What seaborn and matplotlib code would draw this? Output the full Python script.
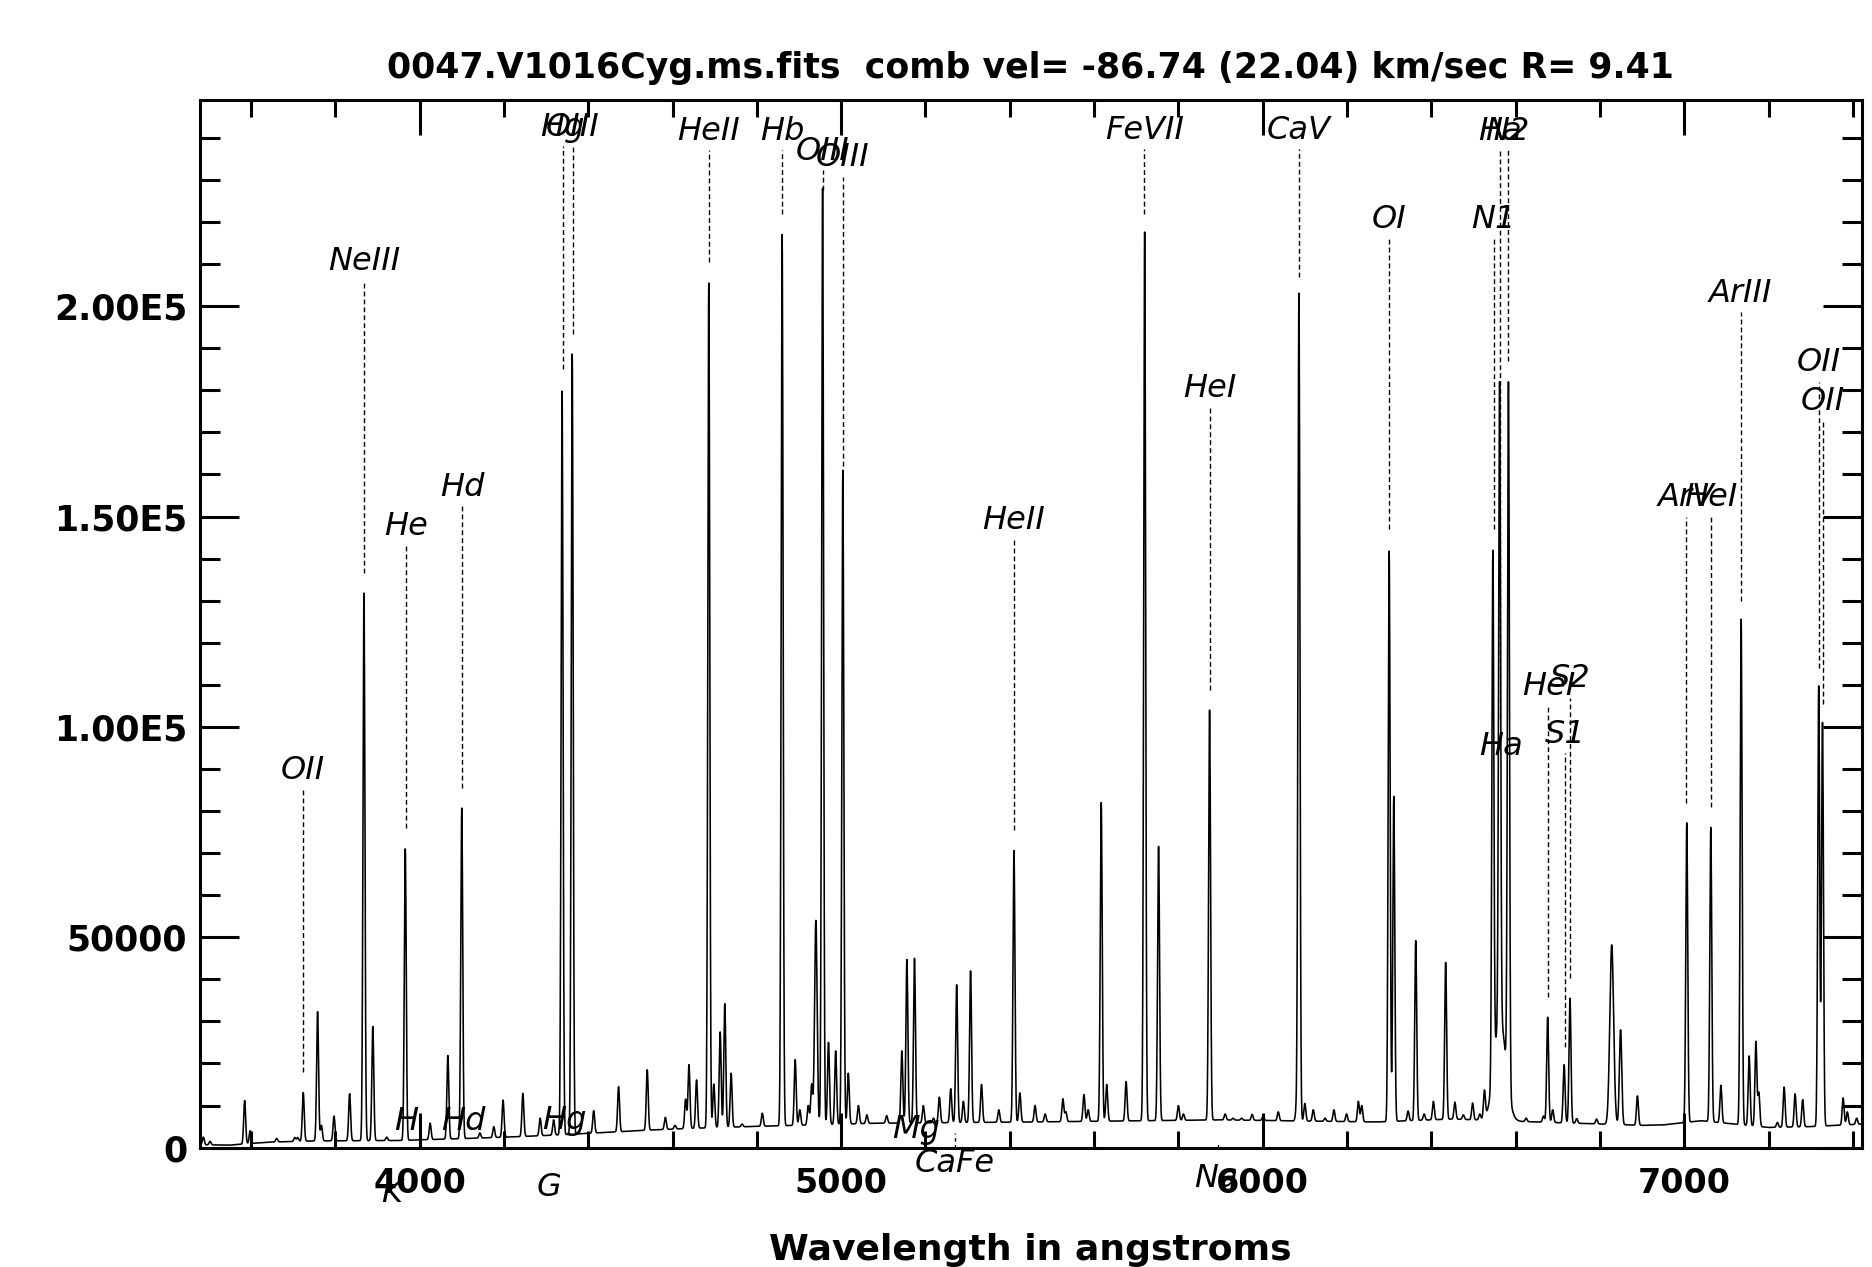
import numpy as np
import matplotlib
matplotlib.use("Agg")
import matplotlib.pyplot as plt
import seaborn as sns

title = "0047.V1016Cyg.ms.fits  comb vel= -86.74 (22.04) km/sec R= 9.41"
x_label = "Wavelength in angstroms"

# continuum level (angstrom, counts)
cont_wave = [3478, 3550, 3640, 3750, 3950, 4050, 4150, 4280, 4400, 4550, 4650, 4780,
             5080, 5450, 5900, 6270, 6450, 6620, 6900, 6950, 7040, 7100, 7200, 7300, 7421]
cont_flux = [700, 600, 1300, 1600, 1700, 2000, 2300, 2800, 3400, 4200, 4600, 5000,
             5800, 6100, 6600, 6100, 6800, 6200, 5300, 5400, 6400, 5800, 4800, 5000, 5600]

# emission peaks (angstrom, peak counts)
line_wave = [3487, 3503, 3585, 3598, 3661, 3704, 3711, 3724, 3758, 3767, 3797, 3834,
             3868, 3889, 3922, 3966, 4025, 4067, 4100, 4143, 4176, 4198, 4245, 4286,
             4318, 4338, 4362, 4413, 4472, 4540, 4583, 4606, 4631, 4639, 4657, 4686,
             4698, 4713, 4724, 4739, 4765, 4813, 4860, 4891, 4902, 4922, 4930, 4940,
             4956, 4970, 4987, 5004, 5017, 5041, 5061, 5108, 5144, 5156, 5174, 5195,
             5219, 5233, 5260, 5274, 5290, 5307, 5333, 5374, 5410, 5424, 5460, 5484,
             5526, 5533, 5576, 5586, 5617, 5630, 5676, 5720, 5753, 5800, 5812, 5874,
             5911, 5930, 5950, 5975, 6001, 6037, 6080, 6086, 6100, 6120, 6148, 6169,
             6199, 6227, 6235, 6300, 6311, 6345, 6363, 6383, 6405, 6434, 6456, 6476,
             6498, 6515, 6526, 6546, 6562, 6583, 6625, 6666, 6676, 6688, 6715, 6729,
             6745, 6792, 6828, 6849, 6889, 7006, 7063, 7087, 7135, 7154, 7170, 7177,
             7221, 7237, 7263, 7281, 7319, 7328, 7377, 7387, 7409]
line_peak = [2500, 1500, 11200, 4000, 2200, 2400, 2400, 13100, 32300, 5300, 7500, 12800,
             131800, 28800, 2500, 71000, 5800, 21900, 80700, 3500, 5000, 11300, 12900, 7000,
             6600, 179800, 188600, 8800, 14500, 18500, 7200, 5300, 11500, 19700, 16100, 205500,
             15100, 27500, 34200, 17700, 5600, 8200, 217000, 20900, 9000, 10000, 15000, 54000,
             228000, 25000, 23000, 161000, 17700, 10000, 7800, 7600, 23000, 44700, 45000, 10000,
             7000, 12000, 14000, 38700, 11000, 42000, 15000, 9000, 70600, 13000, 10000, 8000,
             11600, 8500, 12600, 9000, 82000, 15000, 15700, 217600, 71600, 10000, 8000, 104000,
             8000, 7000, 7000, 7900, 7500, 8500, 9000, 203000, 10500, 9000, 7000, 9000,
             8000, 11000, 10000, 141800, 83500, 8700, 49200, 8000, 11000, 44000, 10800, 7800,
             10600, 8000, 13700, 142000, 182000, 182000, 7000, 7500, 31000, 9000, 19700, 35500,
             6900, 6800, 48200, 28000, 12300, 77200, 76100, 14800, 125600, 21800, 25200, 13000,
             6000, 14400, 12800, 11400, 109700, 101000, 11800, 8500, 7000]
# lines that are clearly wider than the rest (angstrom, sigma in angstrom)
wide_wave = [6828, 6849, 4940]
wide_sigma = [4.5, 2.8, 3.0]
# broad H-alpha wings
wing_wave = [6563]
wing_amp = [24000]
wing_sigma = [14.0]

# identified emission lines: name, wavelength, dashed marker from/to (counts)
id_name = ["OII", "NeIII", "He", "Hd", "Hg", "OIII", "HeII", "Hb", "OIII", "OIII",
           "HeII", "FeVII", "HeI", "CaV", "OI", "N1", "Ha", "N2", "HeI", "S1", "S2",
           "ArV", "HeI", "ArIII", "OII", "OII"]
id_wave = [3724, 3869, 3968, 4101, 4339, 4363, 4686, 4860, 4957, 5004,
           5410, 5719, 5874, 6086, 6299, 6548, 6562, 6581, 6678, 6717, 6730,
           7004, 7064, 7134, 7320, 7330]
id_lo = [18000, 136600, 76000, 85500, 185000, 193300, 210400, 222000, 227500, 162000,
         75600, 222000, 108800, 207000, 147000, 147000, 102000, 187000, 35800, 24000, 40300,
         82000, 81000, 130000, 114000, 105400]
id_hi = [85000, 206000, 143000, 152400, 238000, 238000, 237000, 237000, 232300, 230700,
         144600, 237300, 175800, 237300, 216000, 216000, 237000, 237000, 105000, 93700, 106900,
         150000, 150000, 198500, 182000, 172700]

# absorption line names written near / below the continuum
abs_name = ["K", "H", "Hd", "G", "Hg", "Mg", "CaFe", "Na", "Ha"]
abs_wave = [3934, 3968, 4104, 4306, 4343, 5177, 5269, 5890, 6565]
abs_y = [-10800, 6200, 6300, -9400, 6500, 4200, -3700, -7300, 95400]
abs_tick_wave = [5269, 5893]
abs_tick_hi = [3500, 1200]

y_ticks = [0, 50000, 100000, 150000, 200000]
y_tick_labels = ["0", "50000", "1.00E5", "1.50E5", "2.00E5"]
x_ticks = [4000, 5000, 6000, 7000]

# build the spectrum from the peaks read above
wave = np.arange(3478, 7421.5, 0.5)
cont = np.interp(wave, cont_wave, cont_flux)
wing = np.zeros_like(wave)
for w, a, s in zip(wing_wave, wing_amp, wing_sigma):
    wing += a * np.exp(-0.5 * ((wave - w) / s) ** 2)
flux = cont + wing
for w, p in zip(line_wave, line_peak):
    s = wide_sigma[wide_wave.index(w)] if w in wide_wave else 2.3
    base = np.interp(w, wave, cont + wing)
    flux += (p - base) * np.exp(-0.5 * ((wave - w) / s) ** 2)

sns.set_style("ticks")
plt.rcParams['font.family'] = ['DejaVu Sans']
plt.rcParams['lines.scale_dashes'] = False
plt.rcParams.update({'text.color': 'black', 'axes.labelcolor': 'black',
                     'xtick.color': 'black', 'ytick.color': 'black',
                     'axes.edgecolor': 'black'})

fig = plt.figure(figsize=(18.72, 12.67), dpi=100)
ax = fig.add_axes([0.1066, 0.0942, 0.8879, 0.8269])

sns.lineplot(x=wave, y=flux, ax=ax, color='black', linewidth=1.15,
             estimator=None, sort=False)

ax.set_xlim(3478, 7421)
ax.set_ylim(0, 249000)

# line identifications
ax.vlines(id_wave, id_lo, id_hi, colors='black', linewidth=1.0,
          linestyles=(0, (3.5, 2.2)))
for n, w, hi in zip(id_name, id_wave, id_hi):
    ax.text(w, hi + 2500, n, ha='center', va='baseline', fontsize=23,
            style='italic', color='black', clip_on=False)
ax.vlines(abs_tick_wave, 0, abs_tick_hi, colors='black', linewidth=1.0,
          linestyles=(0, (2.5, 2.5)))
for n, w, y in zip(abs_name, abs_wave, abs_y):
    ax.text(w, y, n, ha='center', va='center', fontsize=23, style='italic',
            color='black', clip_on=False)

ax.set_xticks(x_ticks)
ax.set_xticklabels([str(t) for t in x_ticks])
ax.set_yticks(y_ticks)
ax.set_yticklabels(y_tick_labels)
ax.xaxis.set_minor_locator(plt.MultipleLocator(200))
ax.yaxis.set_minor_locator(plt.MultipleLocator(10000))
ax.tick_params(which='both', direction='in', top=True, right=True, width=2.2,
               colors='black')
ax.tick_params(axis='y', which='major', length=28, pad=9)
ax.tick_params(axis='y', which='minor', length=14.5)
ax.tick_params(axis='x', which='major', length=25, pad=14)
ax.tick_params(axis='x', which='minor', length=12.5)
for lab in ax.get_xticklabels():
    lab.set_fontsize(24)
    lab.set_fontweight('bold')
for lab in ax.get_yticklabels():
    lab.set_fontsize(25)
    lab.set_fontweight('bold')
for sp in ax.spines.values():
    sp.set_linewidth(2.2)
    sp.set_color('black')

ax.set_title(title, fontsize=25, fontweight='bold', pad=16, color='black')
ax.set_xlabel(x_label, fontsize=26, fontweight='bold', labelpad=24, color='black')
ax.set_ylabel("")

fig.savefig("out.png", dpi=100)
